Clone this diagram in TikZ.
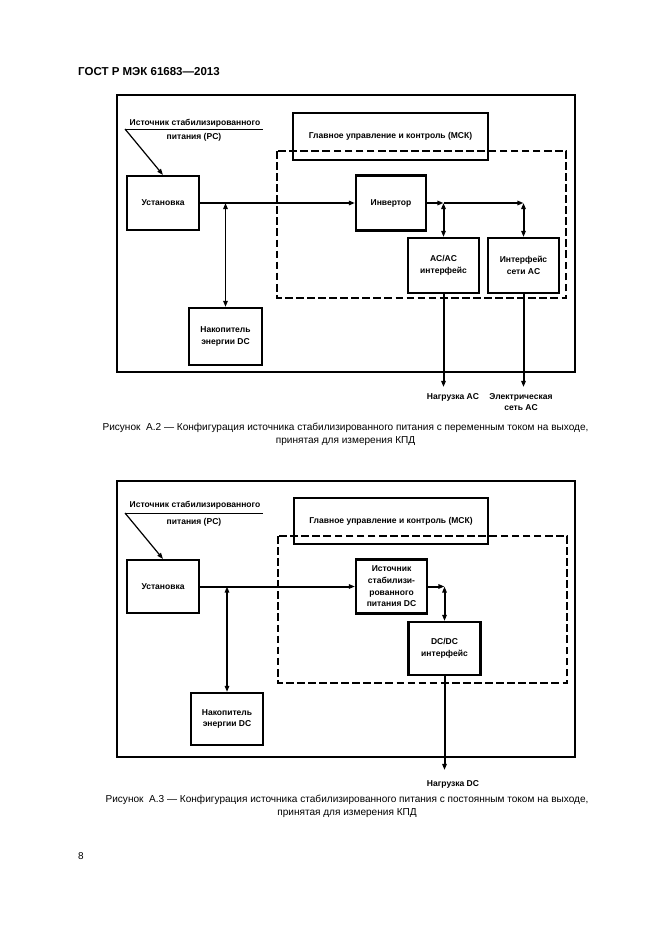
\documentclass[tikz,border=0pt]{standalone}
\usepackage{fontspec}
\setmainfont{Liberation Sans}
\usetikzlibrary{arrows.meta,positioning,calc}

\newdimen\pxu \pxu=0.9038pt

\begin{document}
\begin{tikzpicture}[x=0.9038pt, y=-0.9038pt,
    frame/.style={line width=2.4pt},
    dashbox/.style={line width=1.6pt, dash pattern=on 7pt off 3pt},
    blk/.style={draw, line width=1.9pt, inner sep=1pt, align=center,
        font=\bfseries\fontsize{7.7}{10.5}\selectfont},
    wh/.style 2 args={minimum width=#1*\pxu, minimum height=#2*\pxu},
    lbl/.style={inner sep=0pt, align=center, font=\bfseries\fontsize{7.7}{10}\selectfont},
    capt/.style={inner sep=0pt, align=center, font=\fontsize{9.1}{12}\selectfont},
    conn/.style={line width=1.8pt},
    arr/.style={-{Triangle[length=5.5pt,width=4pt]}},
    darr/.style={{Triangle[length=5.5pt,width=4pt]}-{Triangle[length=5.5pt,width=4pt]}}
]
    \useasboundingbox (0,0) rectangle (661,936);

    % Header
    \node[anchor=west, inner sep=0pt, font=\bfseries\fontsize{10.4}{12}\selectfont] (hdr) at (78,72) {ГОСТ Р МЭК 61683---2013};

    % ---------- Figure A.2 ----------
    \draw[frame] (117,95) rectangle (575,372);
    \draw[dashbox] (277,151) rectangle (566,298);

    \node[blk, wh={195}{47}] (mck1) at (390.5,136.5) {Главное управление и контроль (МСК)};
    \node[blk, wh={72}{54}] (ust1) at (163,203) {Установка};
    \node[blk, wh={70}{55}] (inv1) at (391,203) {Инвертор};
    \node[blk, wh={71}{55}] (acac1) at (443.5,265.5) {AC/AC\\интерфейс};
    \node[blk, wh={71}{55}] (grid1) at (523.5,265.5) {Интерфейс\\сети AC};
    \node[blk, wh={73}{57}] (stor1) at (225.5,336.5) {Накопитель\\энергии DC};

    % PC label
    \node[lbl] (pc1a) at (195,123) {Источник стабилизированного};
    \node[lbl] (pc1b) at (194,137) {питания (PC)};
    \coordinate (ul1a) at (125,129);
    \coordinate (ul1b) at (263,129);
    \draw[line width=0.9pt] (ul1a) -- (ul1b);
    \draw[line width=1.1pt, arr] (ul1a) -- (ust1.north);

    % Connections
    \coordinate (j1) at (ust1.east -| stor1.north);
    \coordinate (j2) at (inv1.east -| acac1.north);
    \coordinate (j3) at (inv1.east -| grid1.north);
    \draw[conn, arr] (ust1.east) -- (inv1.west);
    \draw[conn, darr] (j1) -- (stor1.north);
    \draw[conn, arr] (inv1.east) -- (j2);
    \draw[conn, arr] (j2) -- (j3);
    \draw[conn, darr] (j2) -- (acac1.north);
    \draw[conn, darr] (j3) -- (grid1.north);

    % Outputs
    \coordinate (o1) at (443.5,387);
    \coordinate (o2) at (523.5,387);
    \draw[conn, arr] (acac1.south) -- (o1);
    \draw[conn, arr] (grid1.south) -- (o2);
    \node[lbl] (load1) at (453,397) {Нагрузка AC};
    \node[lbl] (net1) at (521,402) {Электрическая\\сеть AC};

    \node[capt] (cap1) at (345.5,434.5) {Рисунок\ \ А.2 --- Конфигурация источника стабилизированного питания с переменным током на выходе,\\принятая для измерения КПД};

    % ---------- Figure A.3 ----------
    \draw[frame] (117,481) rectangle (575,757);
    \draw[dashbox] (278,536) rectangle (567,683);

    \node[blk, wh={194}{46}] (mck2) at (391,521) {Главное управление и контроль (МСК)};
    \node[blk, wh={72}{53}] (ust2) at (163,586.5) {Установка};
    \node[blk, wh={71}{54}] (src2) at (391.5,586.5) {Источник\\стабилизи-\\рованного\\питания DC};
    \node[blk, wh={72}{53}] (dcdc2) at (444.5,648.5) {DC/DC\\интерфейс};
    \node[blk, wh={72}{52}] (stor2) at (227,719) {Накопитель\\энергии DC};

    % PC label
    \node[lbl] (pc2a) at (195,505) {Источник стабилизированного};
    \node[lbl] (pc2b) at (194,522) {питания (PC)};
    \coordinate (ul2a) at (125,513);
    \coordinate (ul2b) at (263,513);
    \draw[line width=0.9pt] (ul2a) -- (ul2b);
    \draw[line width=1.1pt, arr] (ul2a) -- (ust2.north);

    % Connections
    \coordinate (k1) at (ust2.east -| stor2.north);
    \coordinate (k2) at (src2.east -| dcdc2.north);
    \draw[conn, arr] (ust2.east) -- (src2.west);
    \draw[conn, darr] (k1) -- (stor2.north);
    \draw[conn, arr] (src2.east) -- (k2);
    \draw[conn, darr] (k2) -- (dcdc2.north);

    % Output
    \coordinate (o3) at (444.5,770);
    \draw[conn, arr] (dcdc2.south) -- (o3);
    \node[lbl] (load2) at (453,784) {Нагрузка DC};

    \node[capt] (cap2) at (347,806.5) {Рисунок\ \ А.3 --- Конфигурация источника стабилизированного питания с постоянным током на выходе,\\принятая для измерения КПД};

    % Page number
    \node[anchor=west, inner sep=0pt, font=\fontsize{9}{11}\selectfont] (pg) at (78,856) {8};
\end{tikzpicture}
\end{document}
